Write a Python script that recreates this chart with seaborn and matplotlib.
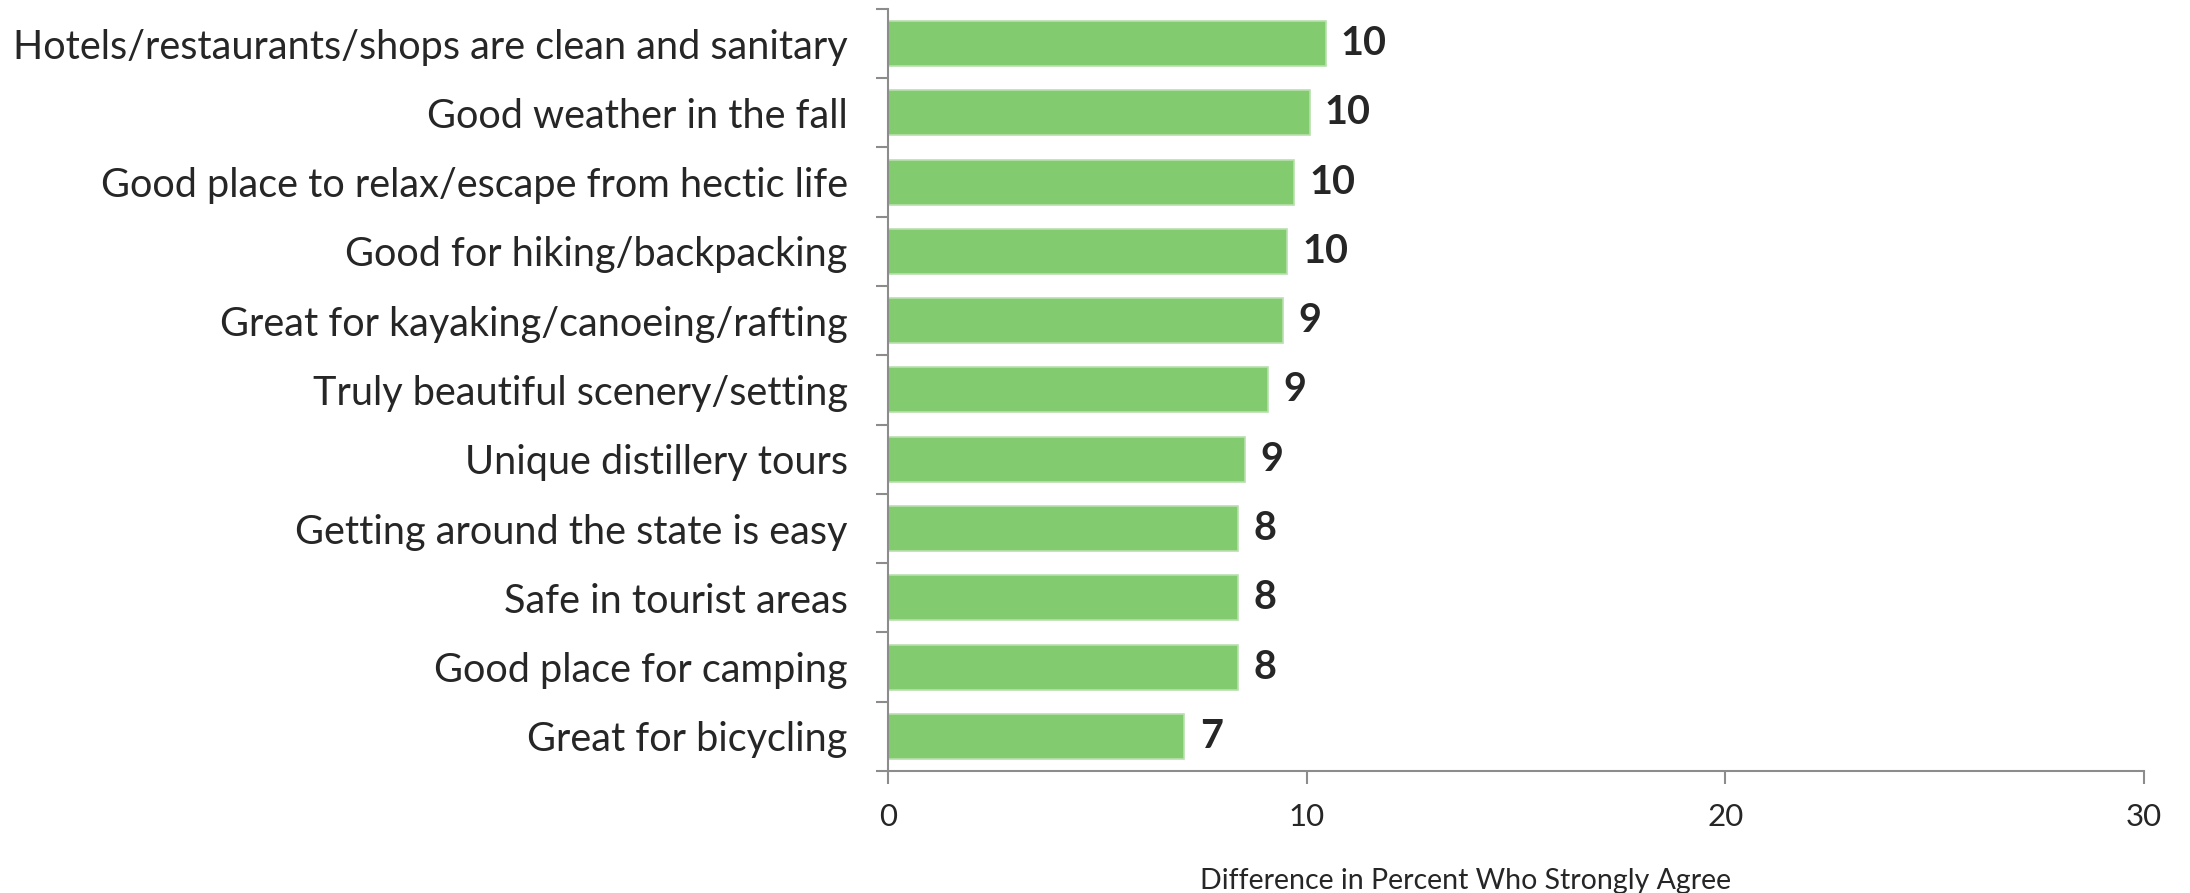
import numpy as np
import pandas as pd
import seaborn as sns
import matplotlib.pyplot as plt

# attributes and difference in % who strongly agree
attributes = [
    "Hotels/restaurants/shops are clean and sanitary",
    "Good weather in the fall",
    "Good place to relax/escape from hectic life",
    "Good for hiking/backpacking",
    "Great for kayaking/canoeing/rafting",
    "Truly beautiful scenery/setting",
    "Unique distillery tours",
    "Getting around the state is easy",
    "Safe in tourist areas",
    "Good place for camping",
    "Great for bicycling",
]
difference = [10.45, 10.07, 9.7, 9.53, 9.43, 9.07, 8.53, 8.37, 8.36, 8.36, 7.08]
x_ticks = [0, 10, 20, 30]
x_title = "Difference in Percent Who Strongly Agree"

df = pd.DataFrame({"Attribute": attributes, "Difference": difference})

sns.set_style("white")
plt.rcParams["font.family"] = ["Lato", "DejaVu Sans"]

axis_grey = "#8C8C8C"
bar_green = "#82CB6E"

fig = plt.figure(figsize=(21.9, 8.93), dpi=100)
ax = fig.add_axes([0.4055, 0.1366, 0.5735, 0.8534])

sns.barplot(data=df, x="Difference", y="Attribute", orient="h", color=bar_green,
            width=0.65, edgecolor="#B9E0AE", linewidth=1.2, saturation=1, ax=ax)

# value labels at the bar ends
ax.bar_label(ax.containers[0], fmt="%.0f", padding=11, fontsize=28.5,
             fontweight="bold", color="#262626")

ax.set_xlim(0, 30)
ax.set_xticks(x_ticks)
ax.set_xticklabels([str(t) for t in x_ticks], fontsize=22.5, color="#262626")
ax.set_xlabel(x_title, fontsize=20.5, color="#262626")
ax.xaxis.set_label_coords(0.46, -0.127)
ax.set_ylabel("")

# category labels, with excel-style ticks between categories
ax.tick_params(axis="y", which="major", left=False, pad=25.5, labelsize=28.5,
               labelcolor="#262626")
ax.set_yticks(np.arange(len(attributes) + 1) - 0.5, minor=True)
ax.tick_params(axis="y", which="minor", left=True, length=9, width=1.5,
               color=axis_grey, direction="out")
ax.tick_params(axis="x", which="major", bottom=True, length=9, width=1.5,
               color=axis_grey, direction="out", pad=14)
ax.set_ylim(len(attributes) - 0.5, -0.5)

sns.despine(ax=ax, top=True, right=True)
for side in ["left", "bottom"]:
    ax.spines[side].set_color(axis_grey)
    ax.spines[side].set_linewidth(1.5)

fig.savefig("out.png", dpi=100)
